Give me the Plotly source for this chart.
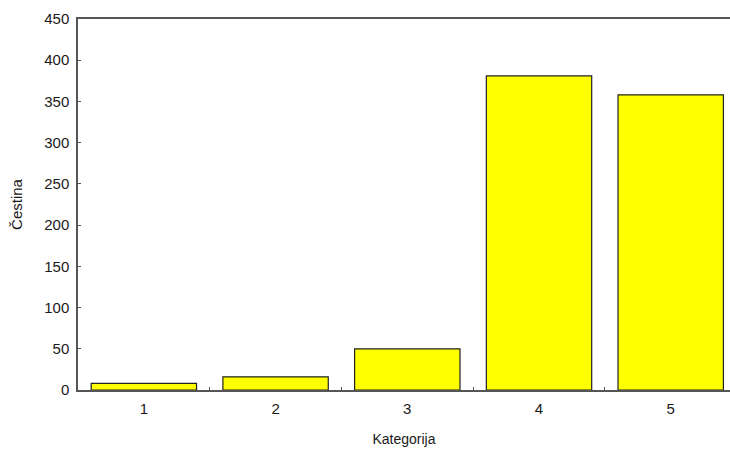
import plotly.graph_objects as go

categories = ["1", "2", "3", "4", "5"]
values = [8, 16, 50, 381, 358]
y_ticks = [0, 50, 100, 150, 200, 250, 300, 350, 400, 450]

fig = go.Figure(go.Bar(
    x=categories, y=values, width=0.8,
    marker=dict(color="#ffff00", line=dict(color="#222222", width=1.2)),
))

fig.update_layout(
    width=730, height=449,
    margin=dict(l=78, r=0, t=19, b=59),
    paper_bgcolor="white", plot_bgcolor="white",
    font=dict(family="Liberation Sans, Arial, sans-serif", size=15, color="#1a1a1a"),
    showlegend=False,
    bargap=0.2,
)
fig.update_xaxes(
    type="category", range=[-0.5, 4.45],
    showline=True, linecolor="#555555", linewidth=1.5, mirror=True,
    ticks="inside", tickson="boundaries", ticklen=3, tickcolor="#555555",
    ticklabelstandoff=4,
    showgrid=False, zeroline=False,
    title=dict(text="Kategorija", standoff=18, font=dict(size=14)),
)
fig.update_yaxes(
    range=[0, 450], tickvals=y_ticks,
    showline=True, linecolor="#555555", linewidth=1.5, mirror=False,
    ticks="inside", ticklen=3, tickcolor="#555555",
    ticklabelstandoff=4,
    showgrid=False, zeroline=False,
    title=dict(text="Čestina", standoff=18, font=dict(size=15)),
)

fig.write_html(
    "out.html",
    config={"displayModeBar": False},
    post_script="document.body.style.margin='0';document.body.style.overflow='hidden';",
)
